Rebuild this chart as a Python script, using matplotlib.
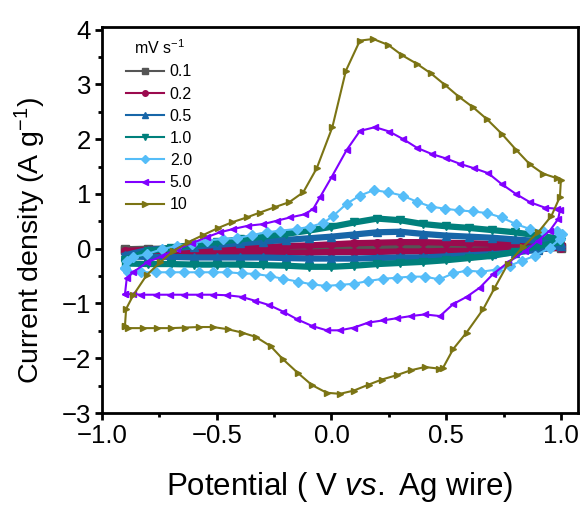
import numpy as np
import matplotlib
matplotlib.use("Agg")
import matplotlib.pyplot as plt
from matplotlib.lines import Line2D

plt.rcParams['font.family'] = ['Liberation Sans', 'DejaVu Sans']
plt.rcParams['mathtext.fontset'] = 'custom'
plt.rcParams['mathtext.rm'] = 'Liberation Sans'
plt.rcParams['mathtext.it'] = 'Liberation Sans:italic'

# scan rates (mV/s) and plotting styles
rates = ['0.1', '0.2', '0.5', '1.0', '2.0', '5.0', '10']
colors = ['#555555', '#9b0a4e', '#1766a8', '#00807c', '#55bdf8', '#8000ff', '#7b7414']
markers = ['s', 'o', '^', 'v', 'D', '<', '>']

# slow scans: potential grid, anodic sweep then cathodic sweep
v_grid = [-0.9, -0.8, -0.7, -0.6, -0.5, -0.4, -0.3, -0.2, -0.1, 0.0,
          0.1, 0.2, 0.3, 0.4, 0.5, 0.6, 0.7, 0.8, 0.9, 1.0]

j01_fwd = [-0.01, 0.00, 0.00, 0.01, 0.01, 0.02, 0.02, 0.03, 0.03, 0.04,
           0.04, 0.05, 0.05, 0.05, 0.05, 0.04, 0.04, 0.04, 0.04, 0.03]
j01_rev = [0.01, 0.00, -0.01, -0.01, -0.01, -0.02, -0.02, -0.02, -0.02, -0.02,
           -0.02, -0.02, -0.02, -0.02, -0.02, -0.02, -0.02, -0.02, -0.02, -0.02]

j02_fwd = [-0.04, -0.02, -0.01, 0.00, 0.01, 0.02, 0.03, 0.05, 0.06, 0.08,
           0.10, 0.11, 0.12, 0.12, 0.11, 0.10, 0.09, 0.08, 0.07, 0.06]
j02_rev = [0.02, 0.00, -0.02, -0.03, -0.04, -0.04, -0.05, -0.05, -0.06, -0.06,
           -0.06, -0.07, -0.07, -0.07, -0.07, -0.07, -0.07, -0.07, -0.07, -0.06]

j05_fwd = [-0.12, -0.02, 0.01, 0.04, 0.07, 0.10, 0.13, 0.16, 0.19, 0.22,
           0.26, 0.30, 0.31, 0.27, 0.24, 0.22, 0.20, 0.17, 0.14, 0.10]
j05_rev = [0.05, -0.02, -0.07, -0.10, -0.12, -0.14, -0.16, -0.16, -0.17, -0.18,
           -0.18, -0.18, -0.17, -0.16, -0.16, -0.16, -0.16, -0.15, -0.15, -0.14]

j10_fwd = [-0.20, -0.05, 0.02, 0.07, 0.12, 0.17, 0.22, 0.27, 0.33, 0.40,
           0.48, 0.55, 0.52, 0.45, 0.41, 0.38, 0.34, 0.30, 0.24, 0.18]
j10_rev = [0.12, 0.05, -0.06, -0.13, -0.17, -0.21, -0.24, -0.26, -0.28, -0.31,
           -0.33, -0.33, -0.31, -0.30, -0.29, -0.29, -0.29, -0.28, -0.28, -0.27]

# 2 mV/s loop
v20 = [-0.900, -0.890, -0.864, -0.805, -0.740, -0.675, -0.609, -0.544, -0.471, -0.413,
       -0.348, -0.282, -0.224, -0.152, -0.094, -0.036, 0.008, 0.066, 0.124, 0.185,
       0.248, 0.310, 0.371, 0.432, 0.495, 0.557, 0.618, 0.680, 0.742, 0.804,
       0.865, 0.923, 0.981, 1.003,
       0.996, 0.952, 0.887, 0.830, 0.778, 0.720, 0.654, 0.589, 0.531, 0.470,
       0.407, 0.346, 0.284, 0.223, 0.160, 0.098, 0.037, -0.024, -0.086, -0.147,
       -0.210, -0.268, -0.333, -0.391, -0.454, -0.515, -0.579, -0.641, -0.704, -0.765,
       -0.828, -0.888, -0.900]
j20 = [-0.35, -0.22, -0.15, -0.10, -0.01, 0.05, 0.09, 0.15, 0.18, 0.19,
       0.25, 0.30, 0.33, 0.36, 0.40, 0.47, 0.60, 0.82, 0.97, 1.07,
       1.03, 0.97, 0.86, 0.77, 0.73, 0.70, 0.68, 0.65, 0.57, 0.45,
       0.36, 0.32, 0.32, 0.27,
       0.18, 0.02, -0.13, -0.22, -0.31, -0.38, -0.42, -0.40, -0.45, -0.56,
       -0.51, -0.51, -0.53, -0.55, -0.59, -0.64, -0.66, -0.68, -0.65, -0.60,
       -0.55, -0.50, -0.46, -0.45, -0.43, -0.43, -0.43, -0.43, -0.43, -0.43,
       -0.43, -0.43, -0.35]

# 5 mV/s loop
v50 = [-0.900, -0.892, -0.864, -0.805, -0.740, -0.675, -0.609, -0.544, -0.486, -0.428,
       -0.363, -0.297, -0.239, -0.181, -0.115, -0.079, -0.050, 0.001, 0.066, 0.124,
       0.190, 0.252, 0.313, 0.374, 0.437, 0.498, 0.560, 0.621, 0.683, 0.742,
       0.804, 0.865, 0.930, 0.981, 0.996,
       0.988, 0.952, 0.901, 0.843, 0.770, 0.705, 0.647, 0.589, 0.531, 0.473,
       0.407, 0.346, 0.284, 0.223, 0.160, 0.098, 0.037, -0.021, -0.085, -0.149,
       -0.210, -0.271, -0.333, -0.391, -0.454, -0.515, -0.579, -0.641, -0.704, -0.765,
       -0.828, -0.864, -0.900]
j50 = [-0.83, -0.53, -0.43, -0.25, -0.14, -0.01, 0.10, 0.21, 0.30, 0.36,
       0.42, 0.45, 0.51, 0.57, 0.63, 0.73, 0.94, 1.31, 1.80, 2.15,
       2.22, 2.14, 2.00, 1.84, 1.73, 1.65, 1.55, 1.47, 1.38, 1.18,
       1.00, 0.85, 0.75, 0.73, 0.70,
       0.54, 0.33, 0.15, -0.05, -0.25, -0.46, -0.71, -0.88, -1.01, -1.23,
       -1.20, -1.23, -1.27, -1.31, -1.35, -1.44, -1.49, -1.49, -1.41, -1.29,
       -1.15, -1.03, -0.95, -0.88, -0.85, -0.84, -0.84, -0.84, -0.84, -0.84,
       -0.84, -0.83, -0.83]

# 10 mV/s loop
v100 = [-0.900, -0.895, -0.864, -0.805, -0.747, -0.689, -0.624, -0.559, -0.493, -0.435,
        -0.370, -0.312, -0.246, -0.184, -0.123, -0.064, 0.004, 0.063, 0.124, 0.182,
        0.248, 0.309, 0.371, 0.434, 0.495, 0.557, 0.618, 0.679, 0.742, 0.804,
        0.865, 0.923, 0.981, 1.000,
        0.996, 0.959, 0.901, 0.836, 0.770, 0.712, 0.662, 0.589, 0.531, 0.487,
        0.470, 0.407, 0.346, 0.284, 0.219, 0.163, 0.098, 0.037, -0.021, -0.085,
        -0.146, -0.211, -0.265, -0.330, -0.391, -0.452, -0.516, -0.579, -0.638, -0.699,
        -0.762, -0.823, -0.888, -0.900]
j100 = [-1.41, -1.10, -0.85, -0.48, -0.25, -0.04, 0.12, 0.25, 0.38, 0.48,
        0.57, 0.66, 0.76, 0.85, 1.03, 1.47, 2.22, 3.25, 3.80, 3.83,
        3.72, 3.53, 3.38, 3.20, 2.99, 2.77, 2.58, 2.36, 2.10, 1.81,
        1.54, 1.37, 1.29, 1.25,
        0.95, 0.60, 0.30, 0.04, -0.27, -0.71, -1.10, -1.53, -1.83, -2.17,
        -2.19, -2.16, -2.22, -2.31, -2.39, -2.48, -2.59, -2.65, -2.63, -2.49,
        -2.27, -2.02, -1.78, -1.61, -1.53, -1.47, -1.43, -1.43, -1.44, -1.45,
        -1.45, -1.45, -1.45, -1.41]


def loop(fwd, rev):
    v = v_grid + v_grid[::-1]
    return v, fwd + rev


curves = [
    loop(j01_fwd, j01_rev),
    loop(j02_fwd, j02_rev),
    loop(j05_fwd, j05_rev),
    loop(j10_fwd, j10_rev),
    (v20, j20),
    (v50, j50),
    (v100, j100),
]

fig = plt.figure(figsize=(5.87, 5.08), dpi=100)
ax = fig.add_axes([0.1738, 0.187, 0.811, 0.760])

for i, (v, j) in enumerate(curves):
    dense = i < 4
    ax.plot(v, j, color=colors[i], marker=markers[i],
            lw=4.5 if dense else 1.5, ms=5.5 if dense else 5,
            mec=colors[i], mfc=colors[i], zorder=2 + i)

ax.set_xlim(-1.0, 1.075)
ax.set_ylim(-3.0, 4.05)
ax.set_xticks([-1.0, -0.5, 0.0, 0.5, 1.0])
ax.set_xticks(np.arange(-1.0, 1.01, 0.25), minor=True)
ax.set_yticks(range(-3, 5))
ax.set_yticks(np.arange(-3.0, 4.01, 0.5), minor=True)
ax.xaxis.set_major_formatter(plt.FuncFormatter(lambda x, p: f"{x:.1f}".replace('-', '\u2212')))
ax.yaxis.set_major_formatter(plt.FuncFormatter(lambda y, p: f"{int(round(y))}".replace('-', '\u2212')))

for s in ax.spines.values():
    s.set_linewidth(2.0)
ax.tick_params(which='major', direction='out', length=5, width=2, labelsize=18.5, pad=3)
ax.tick_params(which='minor', direction='out', length=3, width=2)

ax.set_xlabel(r'Potential ( V $\mathit{vs.}$ Ag wire)', fontsize=22.5, labelpad=16)
ax.set_ylabel(r'Current density (A g$^{-1}$)', fontsize=20.5)
ax.yaxis.set_label_coords(-0.113, 0.448)

handles = [Line2D([], [], color=c, marker=m, lw=1.5, ms=4, mfc=c, mec=c)
           for c, m in zip(colors, markers)]
leg = ax.legend(handles, rates, title=r'mV s$^{-1}$', loc='upper left',
                bbox_to_anchor=(0.03, 0.995), frameon=False, fontsize=11.5,
                title_fontsize=11.5, handlelength=2.4, handletextpad=0.35,
                labelspacing=0.45, borderaxespad=0.2)

fig.savefig('out.png', dpi=100)
